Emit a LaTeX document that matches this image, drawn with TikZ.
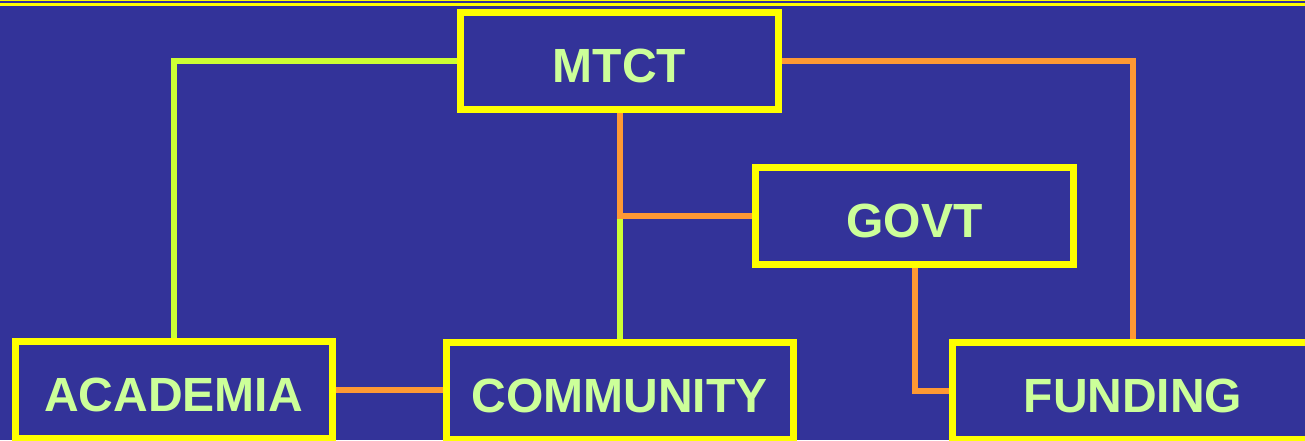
\documentclass[tikz,border=0pt]{standalone}
\usepackage{fontspec}
\setmainfont{Liberation Sans}
\definecolor{bgblue}{HTML}{333399}
\definecolor{boxyellow}{HTML}{FFFF00}
\definecolor{txtgreen}{HTML}{CCFF99}
\definecolor{linegreen}{HTML}{CCFF33}
\definecolor{lineorange}{HTML}{FF9933}
\begin{document}
\begin{tikzpicture}[x=1pt,y=-1pt,
  box/.style={draw=boxyellow, line width=7pt, fill=bgblue, rectangle,
    minimum height=97pt, inner sep=0pt, text=txtgreen,
    font=\fontsize{48}{48}\selectfont\bfseries, text height=43pt, text depth=0pt},
  glink/.style={draw=linegreen, line width=6pt},
  olink/.style={draw=lineorange, line width=6pt}]
\clip (0,0) rectangle (1305,440);
\useasboundingbox (0,0) rectangle (1305,440);
\fill[bgblue] (0,0) rectangle (1305,440);
\draw[boxyellow, line width=1pt] (0,0.5) -- (1305,0.5);
\draw[boxyellow, line width=2.4pt] (0,4.5) -- (1305,4.5);

\node[box, minimum width=318pt] (mtct) at (619.5,61) {MTCT};
\node[box, minimum width=318pt] (govt) at (914.5,215.5) {GOVT};
\node[box, minimum width=317pt] (acad) at (173.5,390) {ACADEMIA};
\node[box, minimum width=347pt] (comm) at (619.5,391) {COMMUNITY};
\node[box, minimum width=362pt] (fund) at (1133,390.5) {FUNDING};

\coordinate (junc) at (mtct.south |- govt.west);
\draw[glink] (mtct.west) -| (acad.north);
\draw[glink] (junc) -- (comm.north);
\draw[olink] (mtct.east) -| (fund.north);
\draw[olink] (mtct.south) -- ([yshift=3pt]junc) -- (junc) -- (govt.west);
\draw[olink] (govt.south) |- (fund.west);
\draw[olink] (acad.east) -- (acad.east -| comm.west);
\end{tikzpicture}
\end{document}
